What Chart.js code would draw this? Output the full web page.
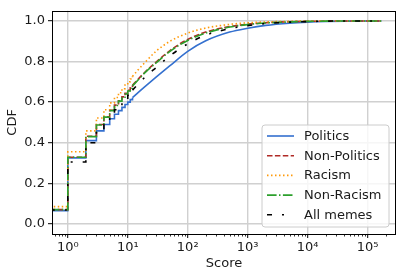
<!DOCTYPE html>
<html>
<head>
<meta charset="utf-8">
<script src="https://cdn.jsdelivr.net/npm/chart.js@4.4.1/dist/chart.umd.min.js"></script>
<style>
  html, body { margin: 0; padding: 0; background: #fff; }
</style>
</head>
<body>
<canvas id="cdf" width="407" height="279"></canvas>
<script>
// --- Data ---
const seriesNames = ['Politics', 'Non-Politics', 'Racism', 'Non-Racism', 'All memes'];

// small integer scores: the CDF is drawn as steps here
const lowScores = [0.5, 1, 2, 3, 4, 5, 6, 7, 8, 9, 10, 11, 12];
const politicsLow    = [0.065, 0.325, 0.410, 0.458, 0.490, 0.518, 0.540, 0.558, 0.574, 0.588, 0.600, 0.612, 0.622];
const nonPoliticsLow = [0.070, 0.328, 0.432, 0.490, 0.528, 0.560, 0.585, 0.607, 0.626, 0.643, 0.658, 0.671, 0.683];
const racismLow      = [0.085, 0.355, 0.458, 0.522, 0.562, 0.596, 0.623, 0.646, 0.666, 0.684, 0.700, 0.714, 0.727];
const nonRacismLow   = [0.070, 0.328, 0.430, 0.487, 0.526, 0.558, 0.583, 0.605, 0.624, 0.640, 0.655, 0.668, 0.680];
const allMemesLow    = [0.068, 0.305, 0.400, 0.465, 0.505, 0.537, 0.562, 0.584, 0.603, 0.619, 0.634, 0.647, 0.659];

// larger scores: steps are too dense to see, the curve looks smooth
const highScores = [12, 15, 20, 30, 50, 100, 200, 500, 1000, 2000, 5000, 10000, 20000, 50000, 100000, 170000];
const politicsHigh    = [0.622, 0.648, 0.680, 0.724, 0.778, 0.850, 0.902, 0.945, 0.964, 0.978, 0.989, 0.994, 0.997, 0.999, 1.0, 1.0];
const nonPoliticsHigh = [0.683, 0.714, 0.752, 0.798, 0.853, 0.909, 0.945, 0.972, 0.984, 0.991, 0.996, 0.998, 0.999, 1.0, 1.0, 1.0];
const racismHigh      = [0.727, 0.760, 0.800, 0.852, 0.899, 0.940, 0.965, 0.983, 0.991, 0.995, 0.998, 1.0, 1.0, 1.0, 1.0, 1.0];
const nonRacismHigh   = [0.680, 0.710, 0.749, 0.794, 0.849, 0.904, 0.940, 0.970, 0.982, 0.990, 0.995, 0.998, 0.999, 1.0, 1.0, 1.0];
const allMemesHigh    = [0.659, 0.690, 0.727, 0.771, 0.827, 0.887, 0.930, 0.962, 0.977, 0.987, 0.994, 0.997, 0.999, 1.0, 1.0, 1.0];

const xTicks = [1, 10, 100, 1000, 10000, 100000];
const yTicks = [0, 0.2, 0.4, 0.6, 0.8, 1.0];

// --- Styles ---
const FONT = 'DejaVu Sans';
const TEXT = '#1a1a1a';
const styles = [
    { color: '#3470cf', dash: [] },
    { color: '#b02a26', dash: [5.5, 2.4] },
    { color: '#ff9a0a', dash: [1.5, 2.5] },
    { color: '#2ca02c', dash: [9.6, 2.4, 1.5, 2.4] },
    { color: '#000000', dash: [5, 10, 2, 10] }
];

const lows = [politicsLow, nonPoliticsLow, racismLow, nonRacismLow, allMemesLow];
const highs = [politicsHigh, nonPoliticsHigh, racismHigh, nonRacismHigh, allMemesHigh];

const toPoints = (xs, ys) => xs.map((x, i) => ({ x: x, y: ys[i] }));

const datasets = [];
seriesNames.forEach((name, i) => {
    const base = {
        label: name,
        borderColor: styles[i].color,
        borderDash: styles[i].dash,
        borderWidth: 1.6,
        pointRadius: 0,
        fill: false,
        order: seriesNames.length - i   // later series drawn on top
    };
    datasets.push(Object.assign({}, base, { data: toPoints(lowScores, lows[i]), stepped: true }));
    datasets.push(Object.assign({}, base, { data: toPoints(highScores, highs[i]), cubicInterpolationMode: 'monotone' }));
});

const sup = { 0: '\u2070', 1: '\u00b9', 2: '\u00b2', 3: '\u00b3', 4: '\u2074', 5: '\u2075' };

// minor ticks on the log axis, frame, and the legend box inside the plot
const decorPlugin = {
    id: 'decor',
    afterDraw(chart) {
        const ctx = chart.ctx;
        const a = chart.chartArea;
        const xs = chart.scales.x;

        ctx.save();
        ctx.strokeStyle = '#000';
        ctx.lineWidth = 0.8;
        for (let k = -1; k <= 5; k++) {
            for (let m = 2; m <= 9; m++) {
                const v = m * Math.pow(10, k);
                if (v < xs.min || v > xs.max) continue;
                const px = Math.round(xs.getPixelForValue(v)) + 0.5;
                ctx.beginPath();
                ctx.moveTo(px, a.bottom);
                ctx.lineTo(px, a.bottom + 2.5);
                ctx.stroke();
            }
        }

        // frame
        ctx.lineWidth = 1;
        ctx.strokeStyle = '#000';
        ctx.strokeRect(Math.round(a.left) + 0.5, Math.round(a.top) + 0.5,
                       Math.round(a.right - a.left) - 1, Math.round(a.bottom - a.top));

        // legend
        const bx = 262, by = 125, bw = 127, bh = 102, r = 3;
        ctx.beginPath();
        ctx.moveTo(bx + r, by);
        ctx.arcTo(bx + bw, by, bx + bw, by + bh, r);
        ctx.arcTo(bx + bw, by + bh, bx, by + bh, r);
        ctx.arcTo(bx, by + bh, bx, by, r);
        ctx.arcTo(bx, by, bx + bw, by, r);
        ctx.closePath();
        ctx.fillStyle = 'rgba(255,255,255,0.8)';
        ctx.fill();
        ctx.strokeStyle = '#cccccc';
        ctx.lineWidth = 1;
        ctx.stroke();

        ctx.font = '13px "' + FONT + '"';
        ctx.textBaseline = 'middle';
        ctx.fillStyle = TEXT;
        seriesNames.forEach((name, i) => {
            const y = 136 + i * 19.7;
            ctx.beginPath();
            ctx.setLineDash(styles[i].dash);
            ctx.strokeStyle = styles[i].color;
            ctx.lineWidth = 1.6;
            ctx.moveTo(267, y);
            ctx.lineTo(294, y);
            ctx.stroke();
            ctx.setLineDash([]);
            ctx.fillText(name, 304, y + 0.5);
        });
        ctx.restore();
    }
};

new Chart(document.getElementById('cdf'), {
    type: 'line',
    data: { datasets: datasets },
    options: {
        responsive: false,
        devicePixelRatio: 1,
        animation: false,
        layout: { padding: { left: 0, right: 11, top: 10, bottom: 0 } },
        plugins: { legend: { display: false }, tooltip: { enabled: false } },
        scales: {
            x: {
                type: 'logarithmic',
                min: 0.545,
                max: 298000,
                afterBuildTicks: (scale) => { scale.ticks = xTicks.map(v => ({ value: v })); },
                afterFit: (scale) => { scale.height = 45; },
                ticks: {
                    autoSkip: false,
                    maxRotation: 0,
                    padding: 2,
                    color: TEXT,
                    font: { family: FONT, size: 13 },
                    callback: (v) => '10' + sup[Math.round(Math.log10(v))]
                },
                grid: { color: '#d0d0d0', lineWidth: 1.4, tickColor: '#000', tickLength: 4, tickWidth: 1 },
                border: { display: false },
                title: { display: true, text: 'Score', color: TEXT, font: { family: FONT, size: 13 }, padding: { top: 0, bottom: 8 } }
            },
            y: {
                type: 'linear',
                min: -0.05,
                max: 1.05,
                afterBuildTicks: (scale) => { scale.ticks = yTicks.map(v => ({ value: v })); },
                afterFit: (scale) => { scale.width = 52; },
                ticks: {
                    padding: 3,
                    color: TEXT,
                    font: { family: FONT, size: 13 },
                    callback: (v) => v.toFixed(1)
                },
                grid: { color: '#d0d0d0', lineWidth: 1.4, tickColor: '#000', tickLength: 4, tickWidth: 1 },
                border: { display: false },
                title: { display: true, text: 'CDF', color: TEXT, font: { family: FONT, size: 13 }, padding: { top: 5, bottom: 0 } }
            }
        }
    },
    plugins: [decorPlugin]
});
</script>
</body>
</html>
